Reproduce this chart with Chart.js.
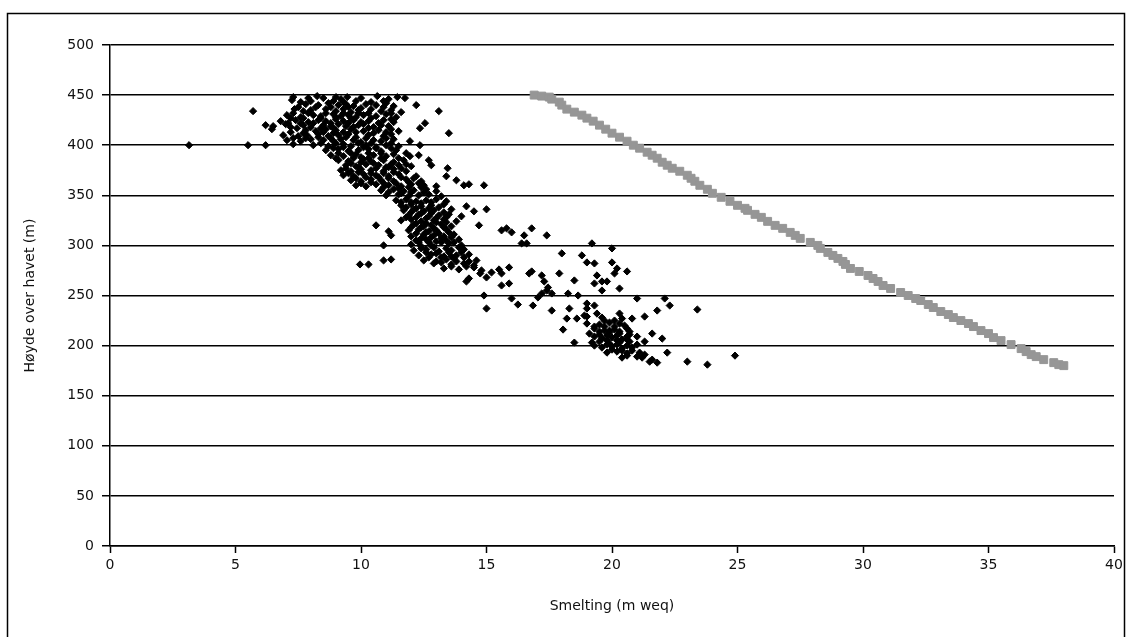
<!DOCTYPE html>
<html>
<head>
<meta charset="utf-8">
<script src="https://cdn.jsdelivr.net/npm/chart.js@4.4.1/dist/chart.umd.min.js"></script>
<style>
  body { margin: 0; background: #fff; }
  canvas { display: block; }
</style>
</head>
<body>
<canvas id="chart" width="1131" height="637"></canvas>
<script>
// Målt smelting mot høyde, [smelting (m weq), høyde (m)]
// øvre del av breen (350-450 m)
const ovreDel = [
  [7.3,448],[7.9,447],[8.25,449],[8.5,447],[9.0,448],[9.2,446],[9.45,448],[10.0,447],[10.65,449],[11.1,446],[11.45,448],[11.75,447],[7.25,445],
  [7.6,443],[8.0,444],[8.9,444],[9.3,443],[9.8,444],[10.4,443],[10.9,444],
  [7.8,441],[8.3,440],[8.7,442],[9.1,440],[9.4,441],[9.7,439],[10.2,441],[10.6,440],[11.0,442],[11.3,439],[12.2,440],
  [7.5,438],[8.2,438],[8.8,438],[9.5,438],[10.0,437],[10.9,438],
  [7.35,436],[7.7,434],[8.0,435],[8.6,436],[9.0,434],[9.3,436],[9.6,433],[9.9,435],[10.4,436],[10.8,434],[11.2,435],[11.6,433],[5.7,434],[13.1,434],
  [7.3,432],[7.9,432],[8.6,432],[9.3,432],[9.9,432],[10.3,432],[11.2,432],
  [7.05,430],[7.6,428],[8.1,430],[8.4,429],[8.9,431],[9.2,429],[9.5,430],[9.8,428],[10.1,430],[10.6,429],[11.0,431],[11.4,428],
  [7.2,427],[7.7,427],[8.4,427],[9.0,428],[9.6,427],[10.4,427],[11.2,426],
  [6.8,424],[7.4,425],[7.9,423],[8.3,425],[8.6,424],[9.0,426],[9.3,424],[9.7,425],[10.0,423],[10.3,424],[10.9,425],[11.3,423],
  [7.1,422],[7.6,422],[8.1,422],[8.8,422],[9.5,422],[10.1,421],[10.7,422],
  [6.2,420],[6.5,419],[7.0,421],[7.7,420],[8.0,418],[8.5,420],[8.8,419],[9.1,421],[9.4,419],[9.9,420],[10.5,418],[10.8,420],[11.1,419],[12.55,422],
  [7.2,418],[8.4,417],[8.9,417],[9.7,418],[10.3,417],[11.2,416],
  [6.45,416],[7.45,417],[7.8,415],[8.2,414],[8.6,416],[9.0,415],[9.3,413],[9.6,416],[10.1,414],[10.7,415],[11.5,414],[12.35,417],
  [7.2,413],[7.7,412],[8.5,413],[8.9,412],[9.8,413],[10.5,412],[11.0,413],
  [6.9,410],[7.5,409],[7.85,410],[8.3,411],[8.7,409],[9.1,410],[9.5,411],[9.8,408],[10.3,410],[10.9,409],[11.2,411],[13.5,412],
  [7.3,407],[7.8,407],[8.3,408],[8.8,407],[9.4,408],[10.2,407],[11.0,407],
  [7.05,405],[7.6,404],[8.0,406],[8.5,405],[8.9,404],[9.2,406],[9.7,405],[10.0,403],[10.5,405],[10.8,404],[11.3,406],[11.95,404],
  [8.4,402],[9.0,402],[9.9,402],[10.4,402],[11.2,402],
  [3.15,400],[5.5,400],[6.2,400],[7.3,401],[8.1,400],[8.7,399],[9.3,401],[9.6,399],[10.2,400],[10.6,398],[11.0,400],[11.5,399],[12.35,400],
  [8.9,397],[9.3,398],[10.1,398],[10.6,397],[11.2,397],
  [8.6,395],[9.1,396],[9.5,394],[9.9,395],[10.3,396],[10.8,394],[11.4,395],[11.8,392],
  [9.1,392],[9.6,392],[10.3,392],[10.8,392],[11.3,391],
  [8.8,390],[9.3,389],[9.8,391],[10.0,388],[10.5,390],[11.0,389],[11.95,389],[12.3,390],
  [9.0,387],[9.7,387],[10.3,387],[10.8,387],[11.5,387],
  [9.1,385],[9.5,384],[10.1,386],[10.4,384],[10.9,385],[11.3,383],[11.7,385],[12.7,385],
  [9.6,382],[10.0,383],[10.5,382],[11.2,381],[11.8,381],
  [9.4,380],[9.8,379],[10.2,381],[10.7,380],[11.0,378],[11.5,380],[12.0,379],[12.8,380],
  [9.4,377],[9.9,378],[10.6,377],[11.1,378],[11.6,377],
  [9.2,375],[9.6,374],[10.0,376],[10.4,375],[10.9,374],[11.3,376],[11.8,374],[13.45,377],
  [9.5,372],[9.9,373],[10.4,372],[10.9,372],[11.3,373],
  [9.3,370],[9.7,369],[10.1,371],[10.6,370],[11.1,369],[11.5,371],[12.2,369],[13.4,369],
  [9.8,367],[10.2,368],[10.7,368],[11.1,367],[11.6,368],[12.1,367],
  [9.6,365],[10.0,364],[10.4,366],[10.8,365],[11.3,364],[11.8,366],[12.4,364],[13.8,365],
  [10.0,362],[10.4,363],[10.9,362],[11.4,362],[11.9,363],[12.3,362],
  [9.8,360],[10.2,359],[10.6,361],[11.1,360],[11.6,359],[12.0,361],[12.5,360],[13.0,359],[14.1,360],[14.3,361],[14.9,360],
  [10.9,358],[11.5,357],[11.9,358],[12.4,358],
  [10.8,355],[11.3,356],[11.7,354],[12.1,355],[12.6,356],[13.0,354],
  [11.1,353],[11.6,352],[12.0,353],[12.5,353],
  [11.0,350],[11.5,351],[11.9,349],[12.3,350],[12.7,351],[13.2,349]
];
// midtre del (265-345 m)
const midtreDel = [
  [11.4,345],[11.8,346],[12.2,344],[12.6,345],[13.0,346],[13.4,344],
  [11.6,343],[12.0,343],[12.4,342],[12.8,343],
  [11.6,340],[12.0,341],[12.4,339],[12.8,340],[13.3,341],[14.2,339],
  [11.8,338],[12.2,337],[12.7,337],[13.1,338],
  [11.7,335],[12.1,336],[12.5,334],[12.9,335],[13.6,336],[14.5,334],[15.0,336],
  [12.0,333],[12.4,332],[12.8,332],[13.3,333],
  [11.9,330],[12.3,331],[12.7,329],[13.1,330],[13.5,331],[14.0,329],
  [11.8,328],[12.2,328],[12.6,327],[13.0,327],[13.4,328],
  [11.6,325],[12.0,326],[12.4,324],[12.9,325],[13.3,326],[13.8,324],
  [12.2,322],[12.6,322],[13.0,323],[13.4,323],
  [10.6,320],[12.1,321],[12.5,319],[12.8,320],[13.2,321],[13.6,319],[14.7,320],[15.8,317],[16.8,317],
  [12.0,318],[12.4,318],[12.9,317],[13.3,318],
  [11.1,314],[11.9,315],[12.3,316],[12.7,314],[13.0,315],[13.4,316],[15.6,315],[16.0,313],
  [12.2,312],[12.6,313],[13.1,312],[13.5,313],
  [11.2,310],[12.0,309],[12.5,311],[12.9,310],[13.3,309],[13.7,311],[16.5,310],[17.4,310],
  [12.4,307],[12.8,308],[13.2,307],[13.6,308],
  [12.2,305],[12.6,306],[13.0,304],[13.4,305],[13.9,306],
  [12.3,303],[12.7,303],[13.2,303],[13.7,303],
  [10.9,300],[12.0,301],[12.4,299],[12.8,300],[13.5,302],[14.0,300],[16.4,302],[16.6,302],[19.2,302],
  [12.4,297],[12.9,298],[13.4,297],[13.9,298],
  [12.1,295],[12.6,296],[13.1,294],[13.6,295],[14.1,296],[20.0,297],
  [12.6,293],[13.0,292],[13.5,293],[14.0,293],
  [12.3,290],[12.8,291],[13.3,289],[13.8,290],[14.3,291],[18.0,292],[18.8,290],
  [12.7,288],[13.2,288],[13.6,289],[14.1,288],
  [10.9,285],[11.2,286],[12.5,285],[13.0,284],[13.4,286],[13.7,287],[14.6,285],
  [13.2,283],[13.8,284],[14.3,284],
  [9.96,281],[10.3,281],[12.9,282],[13.6,281],[14.1,282],[14.5,280],[19.0,283],[19.3,282],[20.0,283],
  [13.6,279],[14.2,279],[14.8,275],
  [13.3,277],[13.9,276],[14.5,278],[15.5,276],[15.9,278],[20.2,277],
  [14.75,272],[15.2,273],[15.6,272],[16.7,272],[16.8,274],[17.9,272],[19.4,270],[20.6,274],[20.1,272],
  [14.3,267],[15.0,268],[17.2,270],[18.5,265]
];
// nedre del (180-265 m)
const nedreDel = [
  [14.2,264],[15.9,262],[17.3,264],[19.6,264],[19.8,264],
  [15.6,260],[17.45,258],[19.3,262],
  [17.4,255],[19.6,255],[20.3,257],
  [17.2,252],[17.6,252],[18.25,252],[14.9,250],
  [16.0,247],[17.05,248],[18.65,250],[21.0,247],[22.1,247],
  [16.25,241],[19.3,240],[19.0,242],[22.3,240],
  [16.85,240],[18.3,237],[17.6,235],[21.8,235],[23.4,236],[15.0,237],[19.0,237],
  [19.4,232],[20.3,232],
  [18.2,227],[18.6,227],[18.9,230],[19.0,229],[20.4,227],[20.8,227],[21.3,229],[19.6,228],
  [19.7,225],[20.1,225],
  [19.0,222],[19.5,221],[19.9,223],[20.3,222],
  [19.3,219],[19.7,219],[20.1,219],[20.5,220],
  [18.05,216],[19.3,217],[19.7,215],[20.1,216],[20.6,217],
  [19.5,214],[19.9,215],[20.3,214],[20.7,214],
  [19.1,212],[19.5,211],[19.9,213],[20.3,212],[20.7,211],[21.6,212],
  [19.3,209],[19.8,210],[20.2,210],[20.6,209],[21.0,209],
  [19.6,207],[20.0,208],[20.4,206],[22.0,207],
  [19.8,205],[20.2,205],[20.6,206],
  [18.5,203],[19.2,203],[19.5,204],[19.9,202],[20.3,203],[20.7,204],[21.3,204],
  [19.3,200],[19.8,201],[20.2,201],[20.6,200],[21.0,201],
  [19.6,198],[20.0,199],[20.4,197],[20.8,198],
  [20.0,196],[20.4,195],[20.8,195],
  [19.8,193],[20.2,194],[20.6,192],[21.1,193],[22.2,193],[24.9,190],
  [20.6,190],[21.3,191],[21.2,188],
  [20.4,188],[21.0,189],[21.6,186],
  [21.8,183],[21.5,184],[23.0,184],[23.8,181]
];
// modellert smelting (grå)
const modellert = [
  [16.9,450],[17.2,449],[17.5,448],[17.6,446],[17.9,443],[18.0,440],[18.2,436],[18.5,433],[18.8,430],[19.0,427],
  [19.25,424],[19.5,420],[19.75,416],[20.0,412],[20.3,408],[20.6,404],[20.85,400],[21.1,397],[21.4,393],[21.6,390],
  [21.8,387],[22.0,383],[22.2,380],[22.4,377],[22.7,374],[23.0,370],[23.15,367],[23.3,364],[23.5,360],[23.8,356],
  [24.0,352],[24.35,348],[24.7,344],[25.0,340],[25.3,337],[25.4,335],[25.7,331],[25.95,328],[26.2,324],[26.5,320],
  [26.8,317],[27.1,313],[27.3,310],[27.5,307],[27.9,303],[28.2,300],[28.3,297],[28.6,293],[28.8,290],[29.0,287],
  [29.2,284],[29.3,281],[29.5,277],[29.85,274],[30.2,270],[30.4,267],[30.6,264],[30.8,260],[31.1,257],[31.5,253],
  [31.8,250],[32.1,247],[32.3,245],[32.6,241],[32.8,238],[33.1,234],[33.4,231],[33.6,228],[33.9,225],[34.2,222],
  [34.4,219],[34.7,215],[35.0,212],[35.2,208],[35.5,205],[35.9,201],[36.3,197],[36.5,194],[36.7,191],[36.9,189],
  [37.2,186],[37.6,183],[37.8,181],[38.0,180]
];

const xTicks = [0, 40, 5];
const yTicks = [0, 500, 50];

const toXY = arr => arr.map(p => ({ x: p[0], y: p[1] }));
const maalt = toXY(ovreDel.concat(midtreDel, nedreDel));

const fontFam = '"DejaVu Sans", Arial, sans-serif';

// ramme rundt hele diagrammet
const ramme = {
  id: 'ramme',
  afterDraw(chart) {
    const ctx = chart.ctx;
    ctx.save();
    ctx.strokeStyle = '#000';
    ctx.lineWidth = 1.5;
    ctx.strokeRect(7.5, 13.5, 1117, 640);
    ctx.restore();
  }
};

new Chart(document.getElementById('chart'), {
  type: 'scatter',
  data: {
    datasets: [
      {
        label: 'Målt',
        data: maalt,
        pointStyle: 'rectRot',
        pointRadius: 3.6,
        borderWidth: 1,
        backgroundColor: '#000',
        borderColor: '#000'
      },
      {
        label: 'Modellert',
        data: toXY(modellert),
        pointStyle: 'rect',
        pointRadius: 5.6,
        borderWidth: 1,
        backgroundColor: '#969696',
        borderColor: '#969696'
      }
    ]
  },
  options: {
    responsive: false,
    animation: false,
    devicePixelRatio: 1,
    layout: { padding: { left: 0, top: 45, right: 17, bottom: 0 } },
    plugins: { legend: { display: false }, tooltip: { enabled: false } },
    scales: {
      x: {
        type: 'linear',
        min: xTicks[0], max: xTicks[1],
        afterFit: s => { s.height = 91; },
        ticks: { stepSize: xTicks[2], color: '#111', padding: 4, font: { family: fontFam, size: 14 } },
        grid: { drawOnChartArea: false, drawTicks: true, tickLength: 7, tickColor: '#000', tickWidth: 1.5 },
        border: { display: true, color: '#000', width: 1.5 },
        title: { display: true, text: 'Smelting (m weq)', color: '#111', padding: { top: 0, bottom: 22 }, font: { family: fontFam, size: 14 } }
      },
      y: {
        type: 'linear',
        min: yTicks[0], max: yTicks[1],
        afterFit: s => { s.width = 110; },
        ticks: { stepSize: yTicks[2], color: '#111', padding: 8, font: { family: fontFam, size: 14 } },
        grid: { color: '#000', lineWidth: 1.5, drawTicks: true, tickLength: 8, tickColor: '#000', tickWidth: 1.5 },
        border: { display: true, color: '#000', width: 1.5 },
        title: { display: true, text: 'Høyde over havet (m)', color: '#111', padding: { top: 22, bottom: 0 }, font: { family: fontFam, size: 14 } }
      }
    }
  },
  plugins: [ramme]
});
</script>
</body>
</html>
